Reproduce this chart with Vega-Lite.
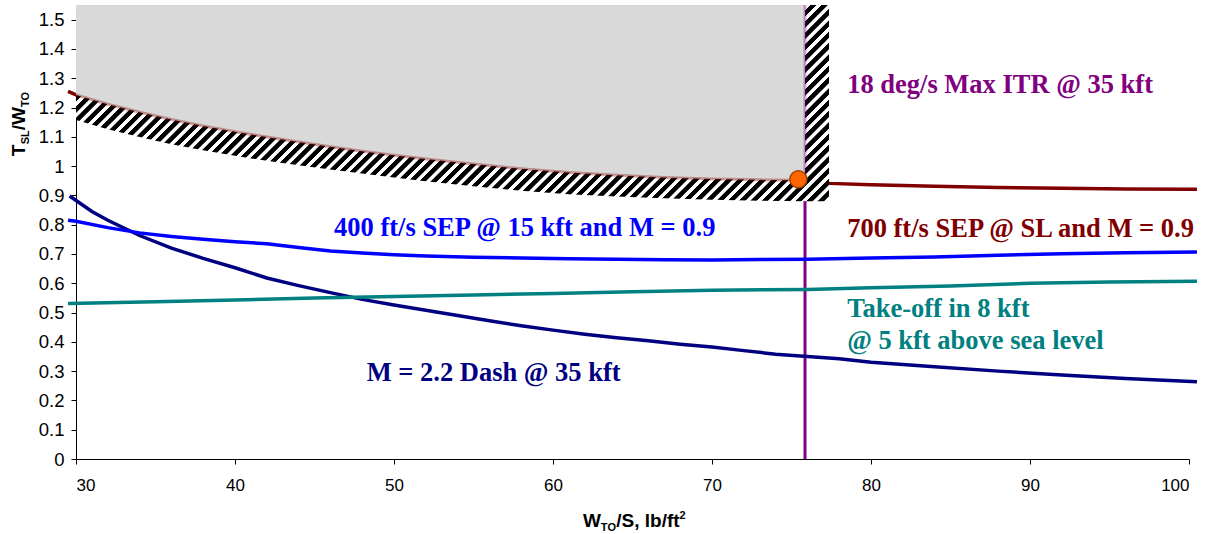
{
  "$schema": "https://vega.github.io/schema/vega-lite/v6.json",
  "width": 1113,
  "height": 454,
  "autosize": {"type": "none"},
  "padding": {"left": 76, "top": 5, "right": 27, "bottom": 75},
  "background": "white",
  "config": {
    "view": {"stroke": null},
    "axis": {"grid": false, "domainColor": "#000", "domainWidth": 1, "tickColor": "#000", "tickSize": 5, "labelFont": "Liberation Sans", "labelColor": "#000", "labelOverlap": false},
    "axisX": {"tickCount": 10, "labelFontSize": 17, "labelPadding": 13},
    "axisY": {"tickCount": 20, "labelFontSize": 18.5, "labelPadding": 7}
  },
  "datasets": {
    "curves": [
      {"wts": 29.6, "tw": 0.898, "s": "dash"}, {"wts": 31, "tw": 0.845, "s": "dash"}, {"wts": 32, "tw": 0.815, "s": "dash"}, {"wts": 34, "tw": 0.763, "s": "dash"}, {"wts": 36, "tw": 0.72, "s": "dash"}, {"wts": 38, "tw": 0.685, "s": "dash"}, {"wts": 40, "tw": 0.653, "s": "dash"}, {"wts": 42, "tw": 0.618, "s": "dash"}, {"wts": 44, "tw": 0.592, "s": "dash"}, {"wts": 46, "tw": 0.568, "s": "dash"}, {"wts": 48, "tw": 0.545, "s": "dash"}, {"wts": 50, "tw": 0.526, "s": "dash"}, {"wts": 52, "tw": 0.508, "s": "dash"}, {"wts": 54, "tw": 0.49, "s": "dash"}, {"wts": 56, "tw": 0.472, "s": "dash"}, {"wts": 58, "tw": 0.455, "s": "dash"}, {"wts": 60, "tw": 0.44, "s": "dash"}, {"wts": 62, "tw": 0.426, "s": "dash"}, {"wts": 64, "tw": 0.414, "s": "dash"}, {"wts": 66, "tw": 0.404, "s": "dash"}, {"wts": 68, "tw": 0.392, "s": "dash"}, {"wts": 70, "tw": 0.382, "s": "dash"}, {"wts": 72, "tw": 0.37, "s": "dash"}, {"wts": 74, "tw": 0.358, "s": "dash"}, {"wts": 76, "tw": 0.35, "s": "dash"}, {"wts": 78, "tw": 0.342, "s": "dash"}, {"wts": 80, "tw": 0.33, "s": "dash"}, {"wts": 84, "tw": 0.315, "s": "dash"}, {"wts": 88, "tw": 0.3, "s": "dash"}, {"wts": 92, "tw": 0.287, "s": "dash"}, {"wts": 96, "tw": 0.275, "s": "dash"}, {"wts": 100.5, "tw": 0.264, "s": "dash"},
      {"wts": 29.5, "tw": 0.815, "s": "sep15"}, {"wts": 30, "tw": 0.812, "s": "sep15"}, {"wts": 32, "tw": 0.79, "s": "sep15"}, {"wts": 34, "tw": 0.772, "s": "sep15"}, {"wts": 36, "tw": 0.76, "s": "sep15"}, {"wts": 38, "tw": 0.75, "s": "sep15"}, {"wts": 40, "tw": 0.742, "s": "sep15"}, {"wts": 42, "tw": 0.735, "s": "sep15"}, {"wts": 44, "tw": 0.722, "s": "sep15"}, {"wts": 46, "tw": 0.71, "s": "sep15"}, {"wts": 48, "tw": 0.703, "s": "sep15"}, {"wts": 50, "tw": 0.697, "s": "sep15"}, {"wts": 52, "tw": 0.693, "s": "sep15"}, {"wts": 55, "tw": 0.689, "s": "sep15"}, {"wts": 58, "tw": 0.686, "s": "sep15"}, {"wts": 61, "tw": 0.684, "s": "sep15"}, {"wts": 64, "tw": 0.682, "s": "sep15"}, {"wts": 67, "tw": 0.68, "s": "sep15"}, {"wts": 70, "tw": 0.679, "s": "sep15"}, {"wts": 73, "tw": 0.681, "s": "sep15"}, {"wts": 76, "tw": 0.682, "s": "sep15"}, {"wts": 80, "tw": 0.686, "s": "sep15"}, {"wts": 84, "tw": 0.69, "s": "sep15"}, {"wts": 88, "tw": 0.696, "s": "sep15"}, {"wts": 92, "tw": 0.701, "s": "sep15"}, {"wts": 96, "tw": 0.704, "s": "sep15"}, {"wts": 100.5, "tw": 0.707, "s": "sep15"},
      {"wts": 29.5, "tw": 0.531, "s": "takeoff"}, {"wts": 35, "tw": 0.537, "s": "takeoff"}, {"wts": 40, "tw": 0.543, "s": "takeoff"}, {"wts": 45, "tw": 0.55, "s": "takeoff"}, {"wts": 50, "tw": 0.555, "s": "takeoff"}, {"wts": 55, "tw": 0.56, "s": "takeoff"}, {"wts": 60, "tw": 0.565, "s": "takeoff"}, {"wts": 65, "tw": 0.571, "s": "takeoff"}, {"wts": 70, "tw": 0.576, "s": "takeoff"}, {"wts": 76, "tw": 0.579, "s": "takeoff"}, {"wts": 80, "tw": 0.585, "s": "takeoff"}, {"wts": 85, "tw": 0.591, "s": "takeoff"}, {"wts": 90, "tw": 0.6, "s": "takeoff"}, {"wts": 95, "tw": 0.604, "s": "takeoff"}, {"wts": 100.5, "tw": 0.607, "s": "takeoff"},
      {"wts": 29.5, "tw": 1.255, "s": "sepSL"}, {"wts": 30, "tw": 1.243, "s": "sepSL"}, {"wts": 32, "tw": 1.211, "s": "sepSL"}, {"wts": 34, "tw": 1.184, "s": "sepSL"}, {"wts": 36, "tw": 1.159, "s": "sepSL"}, {"wts": 38, "tw": 1.137, "s": "sepSL"}, {"wts": 40, "tw": 1.117, "s": "sepSL"}, {"wts": 42, "tw": 1.099, "s": "sepSL"}, {"wts": 44, "tw": 1.082, "s": "sepSL"}, {"wts": 46, "tw": 1.066, "s": "sepSL"}, {"wts": 48, "tw": 1.051, "s": "sepSL"}, {"wts": 50, "tw": 1.037, "s": "sepSL"}, {"wts": 52, "tw": 1.024, "s": "sepSL"}, {"wts": 55, "tw": 1.007, "s": "sepSL"}, {"wts": 58, "tw": 0.991, "s": "sepSL"}, {"wts": 61, "tw": 0.978, "s": "sepSL"}, {"wts": 64, "tw": 0.969, "s": "sepSL"}, {"wts": 67, "tw": 0.961, "s": "sepSL"}, {"wts": 70, "tw": 0.956, "s": "sepSL"}, {"wts": 73, "tw": 0.953, "s": "sepSL"}, {"wts": 75.85, "tw": 0.952, "s": "sepSL"}, {"wts": 77.4, "tw": 0.941, "s": "sepSL"}, {"wts": 80, "tw": 0.936, "s": "sepSL"}, {"wts": 84, "tw": 0.931, "s": "sepSL"}, {"wts": 88, "tw": 0.927, "s": "sepSL"}, {"wts": 92, "tw": 0.924, "s": "sepSL"}, {"wts": 96, "tw": 0.922, "s": "sepSL"}, {"wts": 100.5, "tw": 0.921, "s": "sepSL"}
    ],
    "hatch": [
      {"wts": 30, "lo": 1.157}, {"wts": 32, "lo": 1.126}, {"wts": 34, "lo": 1.099}, {"wts": 36, "lo": 1.075}, {"wts": 38, "lo": 1.054}, {"wts": 40, "lo": 1.035}, {"wts": 42, "lo": 1.018}, {"wts": 44, "lo": 1.003}, {"wts": 46, "lo": 0.988}, {"wts": 48, "lo": 0.975}, {"wts": 50, "lo": 0.961}, {"wts": 52, "lo": 0.948}, {"wts": 55, "lo": 0.931}, {"wts": 58, "lo": 0.916}, {"wts": 61, "lo": 0.904}, {"wts": 64, "lo": 0.896}, {"wts": 67, "lo": 0.89}, {"wts": 70, "lo": 0.885}, {"wts": 73, "lo": 0.882}, {"wts": 75.85, "lo": 0.88}, {"wts": 77.36, "lo": 0.88}
    ],
    "itr": [{"wts": 75.85}],
    "design": [{"wts": 75.43, "tw": 0.955}]
  },
  "layer": [
    {
      "data": {"name": "itr"},
      "mark": {"type": "rule", "color": "#800080", "strokeWidth": 3},
      "encoding": {
        "x": {"field": "wts", "type": "quantitative", "title": null, "scale": {"domain": [30, 100], "nice": false, "zero": false},
          "axis": {"values": [30, 40, 50, 60, 70, 80, 90, 100], "title": null, "labelOverlap": false}}
      }
    },
    {
      "data": {"name": "curves"},
      "mark": {"type": "line", "strokeWidth": 3.5},
      "encoding": {
        "x": {"field": "wts", "type": "quantitative", "title": null, "scale": {"domain": [30, 100], "nice": false, "zero": false},
          "axis": {"values": [30, 40, 50, 60, 70, 80, 90, 100], "title": null, "labelOverlap": false}},
        "y": {"field": "tw", "type": "quantitative", "title": null, "scale": {"domain": [0, 1.55], "nice": false, "zero": false},
          "axis": {"values": [0, 0.1, 0.2, 0.3, 0.4, 0.5, 0.6, 0.7, 0.8, 0.9, 1, 1.1, 1.2, 1.3, 1.4, 1.5], "format": ".1~f", "title": null, "labelOverlap": false}},
        "color": {"field": "s", "type": "nominal", "legend": null,
          "scale": {"domain": ["dash", "sep15", "takeoff", "sepSL"], "range": ["#000080", "#0000FF", "#008080", "#800000"]}}
      }
    },
    {
      "data": {"name": "hatch"},
      "mark": {"type": "area", "fill": {"gradient": "linear", "x1": 0, "y1": 0, "x2": 1.4054, "y2": 0.3658, "stops": [
        {"offset":0,"color":"#000"},{"offset":0.005,"color":"#000"},{"offset":0.0058,"color":"#fff"},{"offset":0.0095,"color":"#fff"},
        {"offset":0.01,"color":"#000"},{"offset":0.015,"color":"#000"},{"offset":0.0158,"color":"#fff"},{"offset":0.0195,"color":"#fff"},
        {"offset":0.02,"color":"#000"},{"offset":0.025,"color":"#000"},{"offset":0.0258,"color":"#fff"},{"offset":0.0295,"color":"#fff"},
        {"offset":0.03,"color":"#000"},{"offset":0.035,"color":"#000"},{"offset":0.0358,"color":"#fff"},{"offset":0.0395,"color":"#fff"},
        {"offset":0.04,"color":"#000"},{"offset":0.045,"color":"#000"},{"offset":0.0458,"color":"#fff"},{"offset":0.0495,"color":"#fff"},
        {"offset":0.05,"color":"#000"},{"offset":0.055,"color":"#000"},{"offset":0.0558,"color":"#fff"},{"offset":0.0595,"color":"#fff"},
        {"offset":0.06,"color":"#000"},{"offset":0.065,"color":"#000"},{"offset":0.0658,"color":"#fff"},{"offset":0.0695,"color":"#fff"},
        {"offset":0.07,"color":"#000"},{"offset":0.075,"color":"#000"},{"offset":0.0758,"color":"#fff"},{"offset":0.0795,"color":"#fff"},
        {"offset":0.08,"color":"#000"},{"offset":0.085,"color":"#000"},{"offset":0.0858,"color":"#fff"},{"offset":0.0895,"color":"#fff"},
        {"offset":0.09,"color":"#000"},{"offset":0.095,"color":"#000"},{"offset":0.0958,"color":"#fff"},{"offset":0.0995,"color":"#fff"},
        {"offset":0.1,"color":"#000"},{"offset":0.105,"color":"#000"},{"offset":0.1058,"color":"#fff"},{"offset":0.1095,"color":"#fff"},
        {"offset":0.11,"color":"#000"},{"offset":0.115,"color":"#000"},{"offset":0.1158,"color":"#fff"},{"offset":0.1195,"color":"#fff"},
        {"offset":0.12,"color":"#000"},{"offset":0.125,"color":"#000"},{"offset":0.1258,"color":"#fff"},{"offset":0.1295,"color":"#fff"},
        {"offset":0.13,"color":"#000"},{"offset":0.135,"color":"#000"},{"offset":0.1358,"color":"#fff"},{"offset":0.1395,"color":"#fff"},
        {"offset":0.14,"color":"#000"},{"offset":0.145,"color":"#000"},{"offset":0.1458,"color":"#fff"},{"offset":0.1495,"color":"#fff"},
        {"offset":0.15,"color":"#000"},{"offset":0.155,"color":"#000"},{"offset":0.1558,"color":"#fff"},{"offset":0.1595,"color":"#fff"},
        {"offset":0.16,"color":"#000"},{"offset":0.165,"color":"#000"},{"offset":0.1658,"color":"#fff"},{"offset":0.1695,"color":"#fff"},
        {"offset":0.17,"color":"#000"},{"offset":0.175,"color":"#000"},{"offset":0.1758,"color":"#fff"},{"offset":0.1795,"color":"#fff"},
        {"offset":0.18,"color":"#000"},{"offset":0.185,"color":"#000"},{"offset":0.1858,"color":"#fff"},{"offset":0.1895,"color":"#fff"},
        {"offset":0.19,"color":"#000"},{"offset":0.195,"color":"#000"},{"offset":0.1958,"color":"#fff"},{"offset":0.1995,"color":"#fff"},
        {"offset":0.2,"color":"#000"},{"offset":0.205,"color":"#000"},{"offset":0.2058,"color":"#fff"},{"offset":0.2095,"color":"#fff"},
        {"offset":0.21,"color":"#000"},{"offset":0.215,"color":"#000"},{"offset":0.2158,"color":"#fff"},{"offset":0.2195,"color":"#fff"},
        {"offset":0.22,"color":"#000"},{"offset":0.225,"color":"#000"},{"offset":0.2258,"color":"#fff"},{"offset":0.2295,"color":"#fff"},
        {"offset":0.23,"color":"#000"},{"offset":0.235,"color":"#000"},{"offset":0.2358,"color":"#fff"},{"offset":0.2395,"color":"#fff"},
        {"offset":0.24,"color":"#000"},{"offset":0.245,"color":"#000"},{"offset":0.2458,"color":"#fff"},{"offset":0.2495,"color":"#fff"},
        {"offset":0.25,"color":"#000"},{"offset":0.255,"color":"#000"},{"offset":0.2558,"color":"#fff"},{"offset":0.2595,"color":"#fff"},
        {"offset":0.26,"color":"#000"},{"offset":0.265,"color":"#000"},{"offset":0.2658,"color":"#fff"},{"offset":0.2695,"color":"#fff"},
        {"offset":0.27,"color":"#000"},{"offset":0.275,"color":"#000"},{"offset":0.2758,"color":"#fff"},{"offset":0.2795,"color":"#fff"},
        {"offset":0.28,"color":"#000"},{"offset":0.285,"color":"#000"},{"offset":0.2858,"color":"#fff"},{"offset":0.2895,"color":"#fff"},
        {"offset":0.29,"color":"#000"},{"offset":0.295,"color":"#000"},{"offset":0.2958,"color":"#fff"},{"offset":0.2995,"color":"#fff"},
        {"offset":0.3,"color":"#000"},{"offset":0.305,"color":"#000"},{"offset":0.3058,"color":"#fff"},{"offset":0.3095,"color":"#fff"},
        {"offset":0.31,"color":"#000"},{"offset":0.315,"color":"#000"},{"offset":0.3158,"color":"#fff"},{"offset":0.3195,"color":"#fff"},
        {"offset":0.32,"color":"#000"},{"offset":0.325,"color":"#000"},{"offset":0.3258,"color":"#fff"},{"offset":0.3295,"color":"#fff"},
        {"offset":0.33,"color":"#000"},{"offset":0.335,"color":"#000"},{"offset":0.3358,"color":"#fff"},{"offset":0.3395,"color":"#fff"},
        {"offset":0.34,"color":"#000"},{"offset":0.345,"color":"#000"},{"offset":0.3458,"color":"#fff"},{"offset":0.3495,"color":"#fff"},
        {"offset":0.35,"color":"#000"},{"offset":0.355,"color":"#000"},{"offset":0.3558,"color":"#fff"},{"offset":0.3595,"color":"#fff"},
        {"offset":0.36,"color":"#000"},{"offset":0.365,"color":"#000"},{"offset":0.3658,"color":"#fff"},{"offset":0.3695,"color":"#fff"},
        {"offset":0.37,"color":"#000"},{"offset":0.375,"color":"#000"},{"offset":0.3758,"color":"#fff"},{"offset":0.3795,"color":"#fff"},
        {"offset":0.38,"color":"#000"},{"offset":0.385,"color":"#000"},{"offset":0.3858,"color":"#fff"},{"offset":0.3895,"color":"#fff"},
        {"offset":0.39,"color":"#000"},{"offset":0.395,"color":"#000"},{"offset":0.3958,"color":"#fff"},{"offset":0.3995,"color":"#fff"},
        {"offset":0.4,"color":"#000"},{"offset":0.405,"color":"#000"},{"offset":0.4058,"color":"#fff"},{"offset":0.4095,"color":"#fff"},
        {"offset":0.41,"color":"#000"},{"offset":0.415,"color":"#000"},{"offset":0.4158,"color":"#fff"},{"offset":0.4195,"color":"#fff"},
        {"offset":0.42,"color":"#000"},{"offset":0.425,"color":"#000"},{"offset":0.4258,"color":"#fff"},{"offset":0.4295,"color":"#fff"},
        {"offset":0.43,"color":"#000"},{"offset":0.435,"color":"#000"},{"offset":0.4358,"color":"#fff"},{"offset":0.4395,"color":"#fff"},
        {"offset":0.44,"color":"#000"},{"offset":0.445,"color":"#000"},{"offset":0.4458,"color":"#fff"},{"offset":0.4495,"color":"#fff"},
        {"offset":0.45,"color":"#000"},{"offset":0.455,"color":"#000"},{"offset":0.4558,"color":"#fff"},{"offset":0.4595,"color":"#fff"},
        {"offset":0.46,"color":"#000"},{"offset":0.465,"color":"#000"},{"offset":0.4658,"color":"#fff"},{"offset":0.4695,"color":"#fff"},
        {"offset":0.47,"color":"#000"},{"offset":0.475,"color":"#000"},{"offset":0.4758,"color":"#fff"},{"offset":0.4795,"color":"#fff"},
        {"offset":0.48,"color":"#000"},{"offset":0.485,"color":"#000"},{"offset":0.4858,"color":"#fff"},{"offset":0.4895,"color":"#fff"},
        {"offset":0.49,"color":"#000"},{"offset":0.495,"color":"#000"},{"offset":0.4958,"color":"#fff"},{"offset":0.4995,"color":"#fff"},
        {"offset":0.5,"color":"#000"},{"offset":0.505,"color":"#000"},{"offset":0.5058,"color":"#fff"},{"offset":0.5095,"color":"#fff"},
        {"offset":0.51,"color":"#000"},{"offset":0.515,"color":"#000"},{"offset":0.5158,"color":"#fff"},{"offset":0.5195,"color":"#fff"},
        {"offset":0.52,"color":"#000"},{"offset":0.525,"color":"#000"},{"offset":0.5258,"color":"#fff"},{"offset":0.5295,"color":"#fff"},
        {"offset":0.53,"color":"#000"},{"offset":0.535,"color":"#000"},{"offset":0.5358,"color":"#fff"},{"offset":0.5395,"color":"#fff"},
        {"offset":0.54,"color":"#000"},{"offset":0.545,"color":"#000"},{"offset":0.5458,"color":"#fff"},{"offset":0.5495,"color":"#fff"},
        {"offset":0.55,"color":"#000"},{"offset":0.555,"color":"#000"},{"offset":0.5558,"color":"#fff"},{"offset":0.5595,"color":"#fff"},
        {"offset":0.56,"color":"#000"},{"offset":0.565,"color":"#000"},{"offset":0.5658,"color":"#fff"},{"offset":0.5695,"color":"#fff"},
        {"offset":0.57,"color":"#000"},{"offset":0.575,"color":"#000"},{"offset":0.5758,"color":"#fff"},{"offset":0.5795,"color":"#fff"},
        {"offset":0.58,"color":"#000"},{"offset":0.585,"color":"#000"},{"offset":0.5858,"color":"#fff"},{"offset":0.5895,"color":"#fff"},
        {"offset":0.59,"color":"#000"},{"offset":0.595,"color":"#000"},{"offset":0.5958,"color":"#fff"},{"offset":0.5995,"color":"#fff"},
        {"offset":0.6,"color":"#000"},{"offset":0.605,"color":"#000"},{"offset":0.6058,"color":"#fff"},{"offset":0.6095,"color":"#fff"},
        {"offset":0.61,"color":"#000"},{"offset":0.615,"color":"#000"},{"offset":0.6158,"color":"#fff"},{"offset":0.6195,"color":"#fff"},
        {"offset":0.62,"color":"#000"},{"offset":0.625,"color":"#000"},{"offset":0.6258,"color":"#fff"},{"offset":0.6295,"color":"#fff"},
        {"offset":0.63,"color":"#000"},{"offset":0.635,"color":"#000"},{"offset":0.6358,"color":"#fff"},{"offset":0.6395,"color":"#fff"},
        {"offset":0.64,"color":"#000"},{"offset":0.645,"color":"#000"},{"offset":0.6458,"color":"#fff"},{"offset":0.6495,"color":"#fff"},
        {"offset":0.65,"color":"#000"},{"offset":0.655,"color":"#000"},{"offset":0.6558,"color":"#fff"},{"offset":0.6595,"color":"#fff"},
        {"offset":0.66,"color":"#000"},{"offset":0.665,"color":"#000"},{"offset":0.6658,"color":"#fff"},{"offset":0.6695,"color":"#fff"},
        {"offset":0.67,"color":"#000"},{"offset":0.675,"color":"#000"},{"offset":0.6758,"color":"#fff"},{"offset":0.6795,"color":"#fff"},
        {"offset":0.68,"color":"#000"},{"offset":0.685,"color":"#000"},{"offset":0.6858,"color":"#fff"},{"offset":0.6895,"color":"#fff"},
        {"offset":0.69,"color":"#000"},{"offset":0.695,"color":"#000"},{"offset":0.6958,"color":"#fff"},{"offset":0.6995,"color":"#fff"},
        {"offset":0.7,"color":"#000"},{"offset":0.705,"color":"#000"},{"offset":0.7058,"color":"#fff"},{"offset":0.7095,"color":"#fff"},
        {"offset":0.71,"color":"#000"},{"offset":0.715,"color":"#000"},{"offset":0.7158,"color":"#fff"},{"offset":0.7195,"color":"#fff"},
        {"offset":0.72,"color":"#000"},{"offset":0.725,"color":"#000"},{"offset":0.7258,"color":"#fff"},{"offset":0.7295,"color":"#fff"},
        {"offset":0.73,"color":"#000"},{"offset":0.735,"color":"#000"},{"offset":0.7358,"color":"#fff"},{"offset":0.7395,"color":"#fff"},
        {"offset":0.74,"color":"#000"},{"offset":0.745,"color":"#000"},{"offset":0.7458,"color":"#fff"},{"offset":0.7495,"color":"#fff"},
        {"offset":0.75,"color":"#000"},{"offset":0.755,"color":"#000"},{"offset":0.7558,"color":"#fff"},{"offset":0.7595,"color":"#fff"},
        {"offset":0.76,"color":"#000"},{"offset":0.765,"color":"#000"},{"offset":0.7658,"color":"#fff"},{"offset":0.7695,"color":"#fff"},
        {"offset":0.77,"color":"#000"},{"offset":0.775,"color":"#000"},{"offset":0.7758,"color":"#fff"},{"offset":0.7795,"color":"#fff"},
        {"offset":0.78,"color":"#000"},{"offset":0.785,"color":"#000"},{"offset":0.7858,"color":"#fff"},{"offset":0.7895,"color":"#fff"},
        {"offset":0.79,"color":"#000"},{"offset":0.795,"color":"#000"},{"offset":0.7958,"color":"#fff"},{"offset":0.7995,"color":"#fff"},
        {"offset":0.8,"color":"#000"},{"offset":0.805,"color":"#000"},{"offset":0.8058,"color":"#fff"},{"offset":0.8095,"color":"#fff"},
        {"offset":0.81,"color":"#000"},{"offset":0.815,"color":"#000"},{"offset":0.8158,"color":"#fff"},{"offset":0.8195,"color":"#fff"},
        {"offset":0.82,"color":"#000"},{"offset":0.825,"color":"#000"},{"offset":0.8258,"color":"#fff"},{"offset":0.8295,"color":"#fff"},
        {"offset":0.83,"color":"#000"},{"offset":0.835,"color":"#000"},{"offset":0.8358,"color":"#fff"},{"offset":0.8395,"color":"#fff"},
        {"offset":0.84,"color":"#000"},{"offset":0.845,"color":"#000"},{"offset":0.8458,"color":"#fff"},{"offset":0.8495,"color":"#fff"},
        {"offset":0.85,"color":"#000"},{"offset":0.855,"color":"#000"},{"offset":0.8558,"color":"#fff"},{"offset":1,"color":"#fff"}
      ]}},
      "encoding": {
        "x": {"field": "wts", "type": "quantitative", "title": null},
        "y": {"field": "lo", "type": "quantitative", "title": null},
        "y2": {"datum": 1.55}
      }
    },
    {
      "data": {"name": "curves"},
      "transform": [{"filter": "datum.s === 'sepSL' && datum.wts >= 30 && datum.wts <= 75.9"}],
      "mark": {"type": "area", "fill": "#d9d9d9", "fillOpacity": 1},
      "encoding": {
        "x": {"field": "wts", "type": "quantitative", "title": null},
        "y": {"field": "tw", "type": "quantitative", "title": null},
        "y2": {"datum": 1.55}
      }
    },
    {
      "data": {"name": "curves"},
      "transform": [{"filter": "datum.s === 'sepSL' && datum.wts <= 75.9"}],
      "mark": {"type": "line", "color": "#800000", "strokeWidth": 3, "opacity": 0.35},
      "encoding": {
        "x": {"field": "wts", "type": "quantitative", "title": null},
        "y": {"field": "tw", "type": "quantitative", "title": null}
      }
    },
    {
      "data": {"name": "itr"},
      "mark": {"type": "rule", "color": "#800080", "strokeWidth": 3, "opacity": 0.35},
      "encoding": {
        "x": {"field": "wts", "type": "quantitative", "title": null},
        "y": {"datum": 0.952, "type": "quantitative"},
        "y2": {"datum": 1.55}
      }
    },
    {
      "data": {"name": "design"},
      "mark": {"type": "point", "shape": "circle", "filled": true, "fill": "#FF6600", "stroke": "#A84300", "strokeWidth": 1.5, "size": 290, "opacity": 1},
      "encoding": {
        "x": {"field": "wts", "type": "quantitative", "title": null},
        "y": {"field": "tw", "type": "quantitative", "title": null}
      }
    },
    {
      "data": {"values": [{}]},
      "mark": {"type": "text", "text": "18 deg/s Max ITR @ 35 kft", "font": "Liberation Serif", "fontWeight": "bold", "fontSize": 26.5, "color": "#800080", "align": "left", "baseline": "alphabetic"},
      "encoding": {"x": {"datum": 78.5, "type": "quantitative"}, "y": {"datum": 1.249, "type": "quantitative"}}
    },
    {
      "data": {"values": [{}]},
      "mark": {"type": "text", "text": "700 ft/s SEP @ SL and M = 0.9", "font": "Liberation Serif", "fontWeight": "bold", "fontSize": 26.5, "color": "#800000", "align": "left", "baseline": "alphabetic"},
      "encoding": {"x": {"datum": 78.5, "type": "quantitative"}, "y": {"datum": 0.757, "type": "quantitative"}}
    },
    {
      "data": {"values": [{}]},
      "mark": {"type": "text", "text": "400 ft/s SEP @ 15 kft and M = 0.9", "font": "Liberation Serif", "fontWeight": "bold", "fontSize": 26.5, "color": "#0000FF", "align": "left", "baseline": "alphabetic"},
      "encoding": {"x": {"datum": 46.23, "type": "quantitative"}, "y": {"datum": 0.761, "type": "quantitative"}}
    },
    {
      "data": {"values": [{}]},
      "mark": {"type": "text", "text": "Take-off in 8 kft", "font": "Liberation Serif", "fontWeight": "bold", "fontSize": 26.5, "color": "#008080", "align": "left", "baseline": "alphabetic"},
      "encoding": {"x": {"datum": 78.5, "type": "quantitative"}, "y": {"datum": 0.484, "type": "quantitative"}}
    },
    {
      "data": {"values": [{}]},
      "mark": {"type": "text", "text": "@ 5 kft above sea level", "font": "Liberation Serif", "fontWeight": "bold", "fontSize": 26.5, "color": "#008080", "align": "left", "baseline": "alphabetic"},
      "encoding": {"x": {"datum": 78.5, "type": "quantitative"}, "y": {"datum": 0.375, "type": "quantitative"}}
    },
    {
      "data": {"values": [{}]},
      "mark": {"type": "text", "text": "M = 2.2 Dash @ 35 kft", "font": "Liberation Serif", "fontWeight": "bold", "fontSize": 26.5, "color": "#000080", "align": "left", "baseline": "alphabetic"},
      "encoding": {"x": {"datum": 48.28, "type": "quantitative"}, "y": {"datum": 0.268, "type": "quantitative"}}
    },
    {
      "data": {"values": [{}]},
      "mark": {"type": "text", "text": "W", "font": "Liberation Sans", "fontWeight": "bold", "fontSize": 19, "color": "#000", "align": "left", "baseline": "alphabetic"},
      "encoding": {"x": {"datum": 61.89, "type": "quantitative"}, "y": {"datum": -0.2315, "type": "quantitative"}}
    },
    {
      "data": {"values": [{}]},
      "mark": {"type": "text", "text": "TO", "font": "Liberation Sans", "fontWeight": "bold", "fontSize": 11, "color": "#000", "align": "left", "baseline": "alphabetic"},
      "encoding": {"x": {"datum": 63.01, "type": "quantitative"}, "y": {"datum": -0.245, "type": "quantitative"}}
    },
    {
      "data": {"values": [{}]},
      "mark": {"type": "text", "text": "/S, lb/ft", "font": "Liberation Sans", "fontWeight": "bold", "fontSize": 19, "color": "#000", "align": "left", "baseline": "alphabetic"},
      "encoding": {"x": {"datum": 63.98, "type": "quantitative"}, "y": {"datum": -0.2315, "type": "quantitative"}}
    },
    {
      "data": {"values": [{}]},
      "mark": {"type": "text", "text": "2", "font": "Liberation Sans", "fontWeight": "bold", "fontSize": 11, "color": "#000", "align": "left", "baseline": "alphabetic"},
      "encoding": {"x": {"datum": 67.96, "type": "quantitative"}, "y": {"datum": -0.204, "type": "quantitative"}}
    },
    {
      "data": {"values": [{}]},
      "mark": {"type": "text", "text": "T", "font": "Liberation Sans", "fontWeight": "bold", "fontSize": 19, "color": "#000", "align": "left", "baseline": "alphabetic", "angle": 270},
      "encoding": {"x": {"datum": 26.79, "type": "quantitative"}, "y": {"datum": 1.0335, "type": "quantitative"}}
    },
    {
      "data": {"values": [{}]},
      "mark": {"type": "text", "text": "SL", "font": "Liberation Sans", "fontWeight": "bold", "fontSize": 11, "color": "#000", "align": "left", "baseline": "alphabetic", "angle": 270},
      "encoding": {"x": {"datum": 27.04, "type": "quantitative"}, "y": {"datum": 1.0745, "type": "quantitative"}}
    },
    {
      "data": {"values": [{}]},
      "mark": {"type": "text", "text": "/W", "font": "Liberation Sans", "fontWeight": "bold", "fontSize": 19, "color": "#000", "align": "left", "baseline": "alphabetic", "angle": 270},
      "encoding": {"x": {"datum": 26.79, "type": "quantitative"}, "y": {"datum": 1.1224, "type": "quantitative"}}
    },
    {
      "data": {"values": [{}]},
      "mark": {"type": "text", "text": "TO", "font": "Liberation Sans", "fontWeight": "bold", "fontSize": 11, "color": "#000", "align": "left", "baseline": "alphabetic", "angle": 270},
      "encoding": {"x": {"datum": 27.04, "type": "quantitative"}, "y": {"datum": 1.2017, "type": "quantitative"}}
    }
  ]
}
